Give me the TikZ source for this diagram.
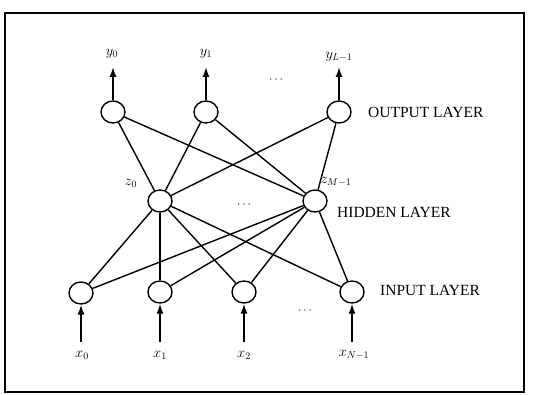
\documentclass[tikz,border=0pt]{standalone}
\usepackage{fontspec}
\setmainfont{Liberation Serif}
\usetikzlibrary{shapes.geometric,arrows.meta}
\begin{document}
\begin{tikzpicture}[x=1pt,y=-1pt,
  neuron/.style={draw,ellipse,line width=1.4pt,minimum width=24pt,minimum height=22pt,inner sep=0pt},
  conn/.style={line width=1.4pt},
  sig/.style={line width=1.5pt,-{Latex[length=10pt,width=7pt]}},
  lab/.style={font=\fontsize{14}{14}\selectfont},
  layer/.style={font=\fontsize{15.5}{15.5}\selectfont,anchor=west,inner sep=0pt},
  dots/.style={font=\fontsize{13}{13}\selectfont}]
\useasboundingbox (0,0) rectangle (535,395);
\draw[line width=2.6pt] (5,13) rectangle (524,392);
% nodes
\node[neuron] (o0) at (113,112) {};
\node[neuron] (o1) at (206,112) {};
\node[neuron] (o2) at (339,112) {};
\node[neuron] (h0) at (160,201) {};
\node[neuron] (h1) at (315,201) {};
\node[neuron] (i0) at (81,293) {};
\node[neuron] (i1) at (160,292) {};
\node[neuron] (i2) at (244,292) {};
\node[neuron] (i3) at (352,292) {};
% connections
\foreach \o in {o0,o1,o2}{\foreach \h in {h0,h1}{\draw[conn] (\o) -- (\h);}}
\foreach \i in {i0,i1,i2,i3}{\foreach \h in {h0,h1}{\draw[conn] (\i) -- (\h);}}
% outputs
\coordinate (t0) at (113,67);
\coordinate (t1) at (206,67);
\coordinate (t2) at (339,67);
\draw[sig] (o0) -- (t0);
\draw[sig] (o1) -- (t1);
\draw[sig] (o2) -- (t2);
\node[lab] (ly0) at (112,54) {$y_0$};
\node[lab] (ly1) at (206,54) {$y_1$};
\node[lab] (ly2) at (339,57) {$y_{L-1}$};
\node[dots] (d1) at (276,80) {$\cdots$};
% hidden labels
\node[lab] (lz0) at (131,183) {$z_0$};
\node[lab] (lz1) at (336,182) {$z_{M-1}$};
\node[dots] (d2) at (244,205) {$\cdots$};
% inputs
\coordinate (b0) at (81,342);
\coordinate (b1) at (160,342);
\coordinate (b2) at (244,342);
\coordinate (b3) at (352,342);
\draw[sig] (b0) -- (i0);
\draw[sig] (b1) -- (i1);
\draw[sig] (b2) -- (i2);
\draw[sig] (b3) -- (i3);
\node[lab] (lx0) at (82,355) {$x_0$};
\node[lab] (lx1) at (160,355) {$x_1$};
\node[lab] (lx2) at (244,355) {$x_2$};
\node[lab] (lx3) at (354,355) {$x_{N-1}$};
\node[dots] (d3) at (305,311) {$\cdots$};
% layer labels
\node[layer] (lo) at (368,112) {OUTPUT LAYER};
\node[layer] (lh) at (337,212) {HIDDEN LAYER};
\node[layer] (li) at (380,290) {INPUT LAYER};
\end{tikzpicture}
\end{document}
